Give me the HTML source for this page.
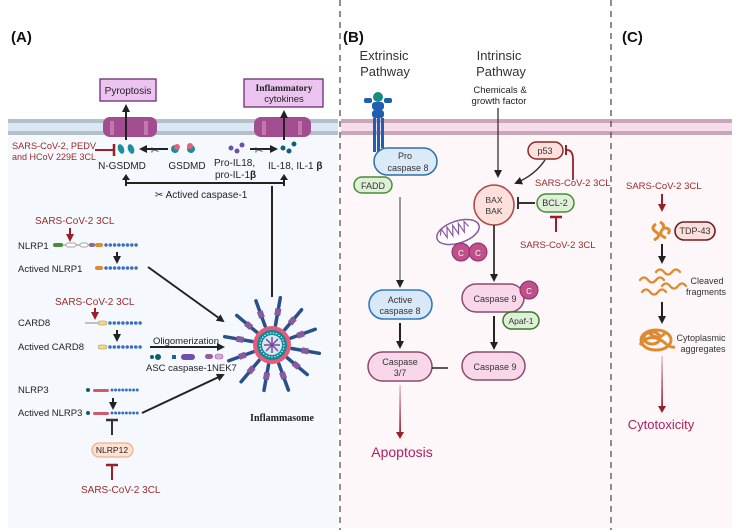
<!DOCTYPE html>
<html><head><meta charset="utf-8"><style>
html,body{margin:0;padding:0;background:#fff;width:743px;height:532px;overflow:hidden}
svg{display:block;font-family:"Liberation Sans",sans-serif}
</style></head><body>
<svg width="743" height="532" viewBox="0 0 743 532" xmlns="http://www.w3.org/2000/svg">
<defs>
<marker id="ah" markerWidth="8" markerHeight="8" refX="6" refY="4" orient="auto" markerUnits="userSpaceOnUse"><path d="M0,0 L8,4 L0,8 Z" fill="#222"/></marker>
<marker id="ahr" markerWidth="8" markerHeight="8" refX="6" refY="4" orient="auto" markerUnits="userSpaceOnUse"><path d="M0,0 L8,4 L0,8 Z" fill="#9a1f2a"/></marker>
<linearGradient id="rg1" gradientUnits="userSpaceOnUse" x1="0" y1="385" x2="0" y2="436"><stop offset="0" stop-color="#e8c8d0"/><stop offset="1" stop-color="#9a1f2a"/></linearGradient>
<linearGradient id="rg2" gradientUnits="userSpaceOnUse" x1="0" y1="356" x2="0" y2="410"><stop offset="0" stop-color="#e8c8d0"/><stop offset="1" stop-color="#9a1f2a"/></linearGradient>
</defs>
<rect x="8" y="135" width="330" height="393" fill="#f5f9fd"/>
<rect x="341" y="135" width="391" height="393" fill="#fdf7f9"/>
<rect x="8" y="119" width="330" height="16" fill="#dbe8f4"/>
<rect x="8" y="119" width="330" height="4" fill="#b3bfcb"/>
<rect x="8" y="131" width="330" height="4" fill="#b3bfcb"/>
<rect x="341" y="119" width="391" height="16" fill="#f7dbee"/>
<rect x="341" y="119" width="391" height="4" fill="#c9a7b4"/>
<rect x="341" y="131" width="391" height="4" fill="#c9a7b4"/>
<line x1="340" y1="0" x2="340" y2="530" stroke="#444" stroke-width="1.2" stroke-dasharray="6,5"/>
<line x1="611" y1="0" x2="611" y2="530" stroke="#444" stroke-width="1.2" stroke-dasharray="6,5"/>

<!-- ===== Panel A ===== -->
<text x="11" y="42" font-size="15" font-weight="bold" fill="#111">(A)</text>
<rect x="100" y="79" width="56" height="22" fill="#ebc5f0" stroke="#6e2a73" stroke-width="1.3"/>
<text x="128" y="94" font-size="10" text-anchor="middle" fill="#222">Pyroptosis</text>
<rect x="244" y="79" width="79" height="28" fill="#ebc5f0" stroke="#6e2a73" stroke-width="1.3"/>
<text x="284" y="91" font-size="9.5" font-weight="bold" font-family="Liberation Serif,serif" text-anchor="middle" fill="#222">Inflammatory</text>
<text x="284" y="102" font-size="9.5" text-anchor="middle" fill="#222">cytokines</text>
<g fill="#a24d8f"><rect x="103" y="117" width="54" height="20" rx="7"/><rect x="254" y="117" width="57" height="20" rx="7"/></g>
<g fill="#c478ae"><rect x="110" y="121" width="4" height="14"/><rect x="144" y="121" width="4" height="14"/><rect x="262" y="121" width="4" height="14"/><rect x="298" y="121" width="4" height="14"/></g>
<line x1="126" y1="140" x2="126" y2="106" stroke="#222" stroke-width="2" marker-end="url(#ah)"/>
<line x1="284" y1="140" x2="284" y2="112" stroke="#222" stroke-width="2" marker-end="url(#ah)"/>
<text x="12" y="149" font-size="9.5" textLength="84" lengthAdjust="spacingAndGlyphs" fill="#9a2a2a">SARS-CoV-2, PEDV</text>
<text x="12" y="160" font-size="9.5" textLength="84" lengthAdjust="spacingAndGlyphs" fill="#9a2a2a">and HCoV 229E 3CL</text>
<line x1="95" y1="150" x2="114" y2="150" stroke="#9a1f2a" stroke-width="2"/>
<line x1="114" y1="144" x2="114" y2="156" stroke="#9a1f2a" stroke-width="2.5"/>
<g fill="#1a8fa0"><ellipse cx="121" cy="149" rx="3" ry="5" transform="rotate(-20 121 149)"/><ellipse cx="131" cy="149" rx="3" ry="5" transform="rotate(-20 131 149)"/></g>
<line x1="168" y1="149" x2="141" y2="149" stroke="#222" stroke-width="2" marker-end="url(#ah)"/>
<text x="155" y="154" font-size="11" text-anchor="middle" fill="#333">✂</text>
<g><circle cx="175" cy="149" r="4" fill="#1a8fa0"/><circle cx="177" cy="147" r="3" fill="#e8607a"/><circle cx="191" cy="149" r="4" fill="#1a8fa0"/><circle cx="190" cy="146" r="3" fill="#e8607a"/></g>
<text x="122" y="169" font-size="10" text-anchor="middle" fill="#222">N-GSDMD</text>
<text x="187" y="169" font-size="10" text-anchor="middle" fill="#222">GSDMD</text>
<g fill="#6f4fa8"><circle cx="231" cy="148" r="2.5"/><circle cx="237" cy="151" r="2.5"/><circle cx="242" cy="145" r="2.5"/></g>
<line x1="250" y1="149" x2="276" y2="149" stroke="#222" stroke-width="2" marker-end="url(#ah)"/>
<text x="259" y="154" font-size="11" text-anchor="middle" fill="#333">✂</text>
<g fill="#0e5f78"><circle cx="283" cy="148" r="2.5"/><circle cx="289" cy="151" r="2.5"/><circle cx="294" cy="144" r="2.5"/></g>
<text x="214" y="166" font-size="10" fill="#222">Pro-IL18,</text>
<text x="215" y="178" font-size="10" fill="#222">pro-IL-1<tspan font-weight="bold">β</tspan></text>
<text x="268" y="169" font-size="10" fill="#222">IL-18, IL-1 <tspan font-weight="bold">β</tspan></text>
<path d="M272,297 L272,186 M126,183 L284,183 M126,186 L126,179 M284,186 L284,179" fill="none" stroke="#222" stroke-width="2"/>
<path d="M126,174 l-4,6 h8z M284,174 l-4,6 h8z" fill="#222"/>
<text x="155" y="198" font-size="10" fill="#222">✂ Actived caspase-1</text>
<text x="35" y="224" font-size="10" fill="#9a2a2a">SARS-CoV-2 3CL</text>
<line x1="70" y1="228" x2="70" y2="240" stroke="#9a1f2a" stroke-width="2" marker-end="url(#ahr)"/>
<text x="18" y="249" font-size="9.5" fill="#222">NLRP1</text>
<rect x="53" y="243" width="10" height="4" rx="2" fill="#4a8a3a"/>
<line x1="63" y1="245" x2="97" y2="245" stroke="#888" stroke-width="1"/>
<rect x="66" y="243" width="10" height="4" rx="2" fill="#fff" stroke="#888" stroke-width=".7"/>
<rect x="80" y="243" width="8" height="4" rx="2" fill="#fff" stroke="#888" stroke-width=".7"/>
<rect x="89" y="243" width="6" height="4" rx="2" fill="#8a6a9a"/>
<rect x="95" y="243" width="8" height="4" rx="2" fill="#e08a30"/>
<line x1="106" y1="245" x2="137" y2="245" stroke="#3a6fc0" stroke-width="3.5" stroke-linecap="round" stroke-dasharray="0 4.3"/>
<line x1="117" y1="252" x2="117" y2="262" stroke="#222" stroke-width="2" marker-end="url(#ah)"/>
<text x="18" y="272" font-size="9.5" fill="#222">Actived NLRP1</text>
<rect x="95" y="266" width="8" height="4" rx="2" fill="#e08a30"/>
<line x1="106" y1="268" x2="137" y2="268" stroke="#3a6fc0" stroke-width="3.5" stroke-linecap="round" stroke-dasharray="0 4.3"/>
<line x1="148" y1="267" x2="223" y2="321" stroke="#222" stroke-width="2" marker-end="url(#ah)"/>
<text x="55" y="305" font-size="10" fill="#9a2a2a">SARS-CoV-2 3CL</text>
<line x1="95" y1="308" x2="95" y2="318" stroke="#9a1f2a" stroke-width="2" marker-end="url(#ahr)"/>
<text x="18" y="326" font-size="9.5" fill="#222">CARD8</text>
<line x1="85" y1="323" x2="100" y2="323" stroke="#888" stroke-width="1"/>
<rect x="98" y="321" width="9" height="4" rx="2" fill="#f0d890" stroke="#a08a40" stroke-width=".5"/>
<line x1="110" y1="323" x2="141" y2="323" stroke="#3a6fc0" stroke-width="3.5" stroke-linecap="round" stroke-dasharray="0 4.3"/>
<line x1="117" y1="330" x2="117" y2="340" stroke="#222" stroke-width="2" marker-end="url(#ah)"/>
<text x="18" y="350" font-size="9.5" fill="#222">Actived CARD8</text>
<rect x="98" y="345" width="9" height="4" rx="2" fill="#f0d890" stroke="#a08a40" stroke-width=".5"/>
<line x1="110" y1="347" x2="141" y2="347" stroke="#3a6fc0" stroke-width="3.5" stroke-linecap="round" stroke-dasharray="0 4.3"/>
<text x="153" y="344" font-size="9.5" fill="#222">Oligomerization</text>
<line x1="150" y1="347" x2="223" y2="347" stroke="#222" stroke-width="2" marker-end="url(#ah)"/>
<circle cx="152" cy="357" r="2" fill="#0e5f68"/><circle cx="158" cy="357" r="3" fill="#0e5f68"/>
<rect x="172" y="355" width="4" height="4" fill="#1a5fa0"/><rect x="181" y="354" width="14" height="6" rx="3" fill="#6f4fa8"/>
<rect x="205" y="354" width="8" height="5" rx="2.5" fill="#9a5aa0"/><rect x="215" y="354" width="8" height="5" rx="2.5" fill="#d8a8d8" stroke="#9a5aa0" stroke-width=".6"/>
<text x="146" y="371" font-size="9.5" fill="#222">ASC caspase-1NEK7</text>
<text x="18" y="393" font-size="9.5" fill="#222">NLRP3</text>
<circle cx="88" cy="390" r="2" fill="#0e5f68"/>
<rect x="93" y="389" width="16" height="3" rx="1.5" fill="#d05a6a"/>
<line x1="112" y1="390" x2="140" y2="390" stroke="#3a6fc0" stroke-width="3" stroke-linecap="round" stroke-dasharray="0 3.6"/>
<line x1="113" y1="398" x2="113" y2="408" stroke="#222" stroke-width="2" marker-end="url(#ah)"/>
<text x="18" y="416" font-size="9.5" fill="#222">Actived NLRP3</text>
<circle cx="88" cy="413" r="2" fill="#0e5f68"/>
<rect x="93" y="412" width="16" height="3" rx="1.5" fill="#d05a6a"/>
<line x1="112" y1="413" x2="140" y2="413" stroke="#3a6fc0" stroke-width="3" stroke-linecap="round" stroke-dasharray="0 3.6"/>
<line x1="142" y1="413" x2="223" y2="375" stroke="#222" stroke-width="2" marker-end="url(#ah)"/>
<line x1="112" y1="420" x2="112" y2="435" stroke="#333" stroke-width="2"/><line x1="106" y1="420" x2="118" y2="420" stroke="#333" stroke-width="2.5"/>
<rect x="92" y="443" width="41" height="14" rx="7" fill="#fde2d2" stroke="#f0b090" stroke-width="1.3"/>
<text x="112" y="453" font-size="8.5" text-anchor="middle" fill="#222">NLRP12</text>
<line x1="112" y1="465" x2="112" y2="480" stroke="#9a1f2a" stroke-width="2"/><line x1="106" y1="465" x2="118" y2="465" stroke="#9a1f2a" stroke-width="2.5"/>
<text x="81" y="493" font-size="10" fill="#9a2a2a">SARS-CoV-2 3CL</text>
<!-- inflammasome -->
<g stroke-linecap="round">
<g stroke="#2a4f8a" stroke-width="3.5">
<g transform="rotate(10 272 345)"><line x1="272" y1="325" x2="272" y2="297"/><rect x="269" y="308" width="6" height="7" fill="#8a5aa0" stroke="none"/></g>
<g transform="rotate(40 272 345)"><line x1="272" y1="325" x2="272" y2="299"/><rect x="269" y="310" width="6" height="7" fill="#8a5aa0" stroke="none"/></g>
<g transform="rotate(70 272 345)"><line x1="272" y1="325" x2="272" y2="299"/><rect x="269" y="311" width="6" height="7" fill="#8a5aa0" stroke="none"/></g>
<g transform="rotate(100 272 345)"><line x1="272" y1="325" x2="272" y2="297"/><rect x="269" y="308" width="6" height="7" fill="#8a5aa0" stroke="none"/></g>
<g transform="rotate(130 272 345)"><line x1="272" y1="325" x2="272" y2="299"/><rect x="269" y="310" width="6" height="7" fill="#8a5aa0" stroke="none"/></g>
<g transform="rotate(160 272 345)"><line x1="272" y1="325" x2="272" y2="297"/><rect x="269" y="309" width="6" height="7" fill="#8a5aa0" stroke="none"/></g>
<g transform="rotate(190 272 345)"><line x1="272" y1="325" x2="272" y2="299"/><rect x="269" y="310" width="6" height="7" fill="#8a5aa0" stroke="none"/></g>
<g transform="rotate(220 272 345)"><line x1="272" y1="325" x2="272" y2="297"/><rect x="269" y="309" width="6" height="7" fill="#8a5aa0" stroke="none"/></g>
<g transform="rotate(250 272 345)"><line x1="272" y1="325" x2="272" y2="299"/><rect x="269" y="310" width="6" height="7" fill="#8a5aa0" stroke="none"/></g>
<g transform="rotate(280 272 345)"><line x1="272" y1="325" x2="272" y2="297"/><rect x="269" y="309" width="6" height="7" fill="#8a5aa0" stroke="none"/></g>
<g transform="rotate(310 272 345)"><line x1="272" y1="325" x2="272" y2="299"/><rect x="269" y="311" width="6" height="7" fill="#8a5aa0" stroke="none"/></g>
<g transform="rotate(340 272 345)"><line x1="272" y1="325" x2="272" y2="298"/><rect x="269" y="309" width="6" height="7" fill="#8a5aa0" stroke="none"/></g>
</g></g>
<circle cx="272" cy="345" r="19" fill="#e85a7a"/>
<circle cx="272" cy="345" r="15" fill="#0e8a98"/>
<circle cx="272" cy="345" r="12" fill="none" stroke="#fff" stroke-width="1" stroke-dasharray="1.5 1.5"/>
<circle cx="272" cy="345" r="10" fill="#d8e8f0"/>
<g stroke="#7a4aa0" stroke-width="1.5"><line x1="272" y1="337" x2="272" y2="353"/><line x1="264" y1="345" x2="280" y2="345"/><line x1="266" y1="339" x2="278" y2="351"/><line x1="278" y1="339" x2="266" y2="351"/></g>
<text x="282" y="421" font-size="10" font-weight="bold" font-family="Liberation Serif,serif" text-anchor="middle" fill="#222">Inflammasome</text>

<!-- ===== Panel B ===== -->
<text x="343" y="42" font-size="15" font-weight="bold" fill="#111">(B)</text>
<text x="384" y="60" font-size="13" text-anchor="middle" fill="#333">Extrinsic</text>
<text x="385" y="76" font-size="13" text-anchor="middle" fill="#333">Pathway</text>
<text x="499" y="60" font-size="13" text-anchor="middle" fill="#333">Intrinsic</text>
<text x="501" y="76" font-size="13" text-anchor="middle" fill="#333">Pathway</text>
<text x="500" y="93" font-size="9.5" text-anchor="middle" fill="#222">Chemicals &amp;</text>
<text x="499" y="104" font-size="9.5" text-anchor="middle" fill="#222">growth factor</text>
<line x1="498" y1="108" x2="498" y2="176" stroke="#333" stroke-width="1.3" marker-end="url(#ah)"/>
<circle cx="378" cy="97" r="5" fill="#1a8a80"/>
<g fill="#1e5fb0"><rect x="364" y="98" width="8" height="5" rx="2"/><rect x="384" y="98" width="8" height="5" rx="2"/><rect x="372" y="102" width="12" height="8" rx="3"/><rect x="372" y="110" width="12" height="8" rx="3"/><rect x="373" y="118" width="3" height="34"/><rect x="377" y="118" width="3" height="34"/><rect x="381" y="118" width="3" height="30"/></g>
<rect x="374" y="148" width="63" height="27" rx="13.5" fill="#dbeaf8" stroke="#2e6fa8" stroke-width="1.5"/>
<text x="405" y="159" font-size="9" text-anchor="middle" fill="#333">Pro</text>
<text x="408" y="171" font-size="9" text-anchor="middle" fill="#333">caspase 8</text>
<rect x="354" y="177" width="38" height="16" rx="8" fill="#dff0d8" stroke="#4a8a3a" stroke-width="1.5"/>
<text x="373" y="189" font-size="9" text-anchor="middle" fill="#333">FADD</text>
<line x1="400" y1="197" x2="400" y2="286" stroke="#555" stroke-width="1.2" marker-end="url(#ah)"/>
<rect x="369" y="290" width="63" height="29" rx="14.5" fill="#d8e8f8" stroke="#2e7ac0" stroke-width="1.6"/>
<text x="400" y="303" font-size="9" text-anchor="middle" fill="#333">Active</text>
<text x="400" y="314" font-size="9" text-anchor="middle" fill="#333">caspase 8</text>
<line x1="400" y1="323" x2="400" y2="347" stroke="#222" stroke-width="2" marker-end="url(#ah)"/>
<rect x="368" y="352" width="64" height="29" rx="14.5" fill="#f8d7ea" stroke="#8a4a6a" stroke-width="1.5"/>
<text x="400" y="365" font-size="9" text-anchor="middle" fill="#333">Caspase</text>
<text x="400" y="376" font-size="9" text-anchor="middle" fill="#333">3/7</text>
<line x1="432" y1="368" x2="448" y2="368" stroke="#222" stroke-width="1.5"/>
<rect x="399.2" y="385" width="1.8" height="49" fill="url(#rg1)"/>
<path d="M396,432 L404,432 L400,439 Z" fill="#9a1f2a"/>
<text x="402" y="457" font-size="14" text-anchor="middle" fill="#b0205a">Apoptosis</text>
<rect x="528" y="142" width="35" height="17" rx="8.5" fill="#fde0dc" stroke="#8a2a2a" stroke-width="1.5"/>
<text x="545" y="154" font-size="9" text-anchor="middle" fill="#333">p53</text>
<path d="M545,160 Q535,175 516,183" fill="none" stroke="#333" stroke-width="1.5" marker-end="url(#ah)"/>
<path d="M573,180 L573,160 Q573,150 567,150" fill="none" stroke="#9a1f2a" stroke-width="1.8"/>
<line x1="566" y1="145" x2="566" y2="155" stroke="#9a1f2a" stroke-width="2"/>
<text x="535" y="186" font-size="9.5" fill="#9a2a2a">SARS-CoV-2 3CL</text>
<circle cx="494" cy="205" r="20" fill="#fde0dc" stroke="#b04a4a" stroke-width="1.6"/>
<text x="494" y="203" font-size="8.5" text-anchor="middle" fill="#333">BAX</text>
<text x="494" y="214" font-size="8.5" text-anchor="middle" fill="#333">BAK</text>
<line x1="518" y1="203" x2="535" y2="203" stroke="#333" stroke-width="2"/><line x1="518" y1="197" x2="518" y2="209" stroke="#333" stroke-width="2"/>
<rect x="537" y="194" width="37" height="18" rx="9" fill="#dff0d8" stroke="#4a8a3a" stroke-width="1.5"/>
<text x="555" y="206" font-size="9" text-anchor="middle" fill="#333">BCL-2</text>
<line x1="556" y1="217" x2="556" y2="232" stroke="#9a1f2a" stroke-width="2"/><line x1="550" y1="217" x2="562" y2="217" stroke="#9a1f2a" stroke-width="2.5"/>
<text x="520" y="248" font-size="9.5" fill="#9a2a2a">SARS-CoV-2 3CL</text>
<g transform="rotate(-18 458 232)"><ellipse cx="458" cy="232" rx="22" ry="11" fill="#fff" stroke="#8a5aa0" stroke-width="1.5"/><path d="M440,230 l3,-6 l3,10 l3,-10 l3,10 l3,-10 l3,10 l3,-10 l3,10 l3,-10 l3,6" fill="none" stroke="#8a5aa0" stroke-width="1.2"/></g>
<circle cx="461" cy="252" r="9" fill="#c0508a" stroke="#8a2a6a"/><text x="461" y="256" font-size="8" text-anchor="middle" fill="#fff">C</text>
<circle cx="478" cy="252" r="9" fill="#c0508a" stroke="#8a2a6a"/><text x="478" y="256" font-size="8" text-anchor="middle" fill="#fff">C</text>
<line x1="494" y1="225" x2="494" y2="280" stroke="#333" stroke-width="1.8" marker-end="url(#ah)"/>
<rect x="462" y="284" width="62" height="28" rx="14" fill="#f8d7ea" stroke="#8a4a6a" stroke-width="1.5"/>
<text x="495" y="302" font-size="9" text-anchor="middle" fill="#333">Caspase 9</text>
<circle cx="529" cy="290" r="9" fill="#c0508a" stroke="#8a2a6a"/><text x="529" y="294" font-size="8" text-anchor="middle" fill="#fff">C</text>
<rect x="503" y="312" width="36" height="17" rx="8.5" fill="#dff0d8" stroke="#3a7a2a" stroke-width="1.5"/>
<text x="521" y="324" font-size="8.5" text-anchor="middle" fill="#333">Apaf-1</text>
<line x1="494" y1="316" x2="494" y2="348" stroke="#222" stroke-width="2" marker-end="url(#ah)"/>
<rect x="462" y="352" width="63" height="28" rx="14" fill="#f8d7ea" stroke="#8a4a6a" stroke-width="1.5"/>
<text x="495" y="370" font-size="9" text-anchor="middle" fill="#333">Caspase 9</text>

<!-- ===== Panel C ===== -->
<text x="622" y="42" font-size="15" font-weight="bold" fill="#111">(C)</text>
<text x="626" y="189" font-size="9.5" fill="#9a2a2a">SARS-CoV-2 3CL</text>
<line x1="662" y1="194" x2="662" y2="210" stroke="#9a1f2a" stroke-width="2" marker-end="url(#ahr)"/>
<path d="M656,224 q-6,4 0,8 q6,4 -2,8 M660,222 q6,3 2,8 q-4,5 4,8 M664,228 q8,0 4,6" fill="none" stroke="#e08a30" stroke-width="3"/>
<rect x="675" y="222" width="40" height="18" rx="9" fill="#fde0dc" stroke="#6a2020" stroke-width="1.6"/>
<text x="695" y="234" font-size="9" text-anchor="middle" fill="#333">TDP-43</text>
<line x1="662" y1="244" x2="662" y2="262" stroke="#222" stroke-width="2" marker-end="url(#ah)"/>
<g fill="none" stroke="#e08a30" stroke-width="2.3" stroke-linecap="round">
<path d="M640,280 q4,-5 8,0 q4,5 8,0 q4,-5 8,0"/>
<path d="M656,272 q4,-5 8,0 q4,5 8,0 q4,-5 8,0"/>
<path d="M662,286 q4,-5 8,0 q4,5 8,0 q4,-5 8,0"/>
<path d="M642,292 q4,-5 8,0 q4,5 8,0 q4,-5 8,0"/>
</g>
<text x="707" y="284" font-size="9" text-anchor="middle" fill="#333">Cleaved</text>
<text x="706" y="295" font-size="9" text-anchor="middle" fill="#333">fragments</text>
<line x1="662" y1="302" x2="662" y2="322" stroke="#222" stroke-width="2" marker-end="url(#ah)"/>
<g fill="none" stroke="#e08a30" stroke-width="3"><ellipse cx="656" cy="340" rx="15" ry="10"/><ellipse cx="652" cy="338" rx="8" ry="6"/><path d="M640,345 q10,-14 25,-2 q5,5 10,4"/><path d="M648,332 q10,10 18,0"/></g>
<text x="701" y="341" font-size="9" text-anchor="middle" fill="#333">Cytoplasmic</text>
<text x="703" y="352" font-size="9" text-anchor="middle" fill="#333">aggregates</text>
<rect x="661.2" y="356" width="1.8" height="52" fill="url(#rg2)"/>
<path d="M658,406 L666,406 L662,413 Z" fill="#9a1f2a"/>
<text x="661" y="429" font-size="13" text-anchor="middle" fill="#b0205a">Cytotoxicity</text>
</svg>
</body></html>
